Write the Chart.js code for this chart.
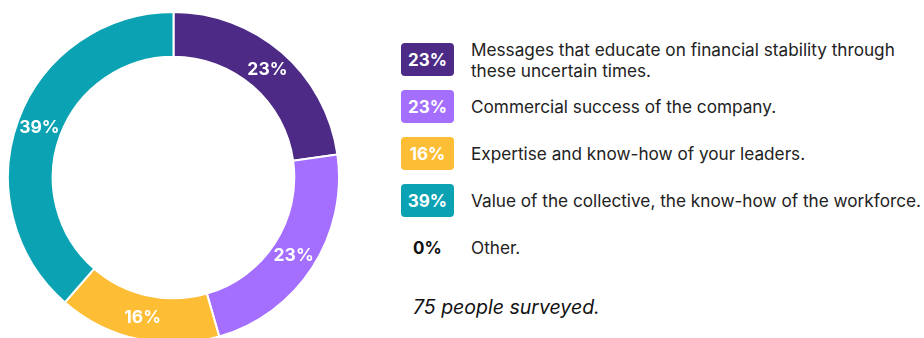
<!DOCTYPE html>
<html>
<head>
<meta charset="utf-8">
<script src="https://cdn.jsdelivr.net/npm/chart.js@4/dist/chart.umd.min.js"></script>
<style>
  html, body { margin: 0; padding: 0; background: #fff; overflow: hidden; }
  body { width: 924px; height: 338px; position: relative; font-family: Inter, "Noto Sans", sans-serif; }
  #wrap { position: absolute; left: 7px; top: 11px; width: 333px; height: 333px; }
  #legend { position: absolute; left: 401px; top: 43px; }
  .row { display: flex; align-items: center; height: 33px; margin-bottom: 14px; }
  .badge { width: 53px; height: 33px; border-radius: 4px; color: #fff; font-weight: 700; font-size: 17px;
           display: flex; align-items: center; justify-content: center; flex-shrink: 0; }
  .badge.plain { color: #111; justify-content: flex-start; padding-left: 12px; box-sizing: border-box; }
  .txt { margin-left: 17px; font-size: 17.2px; line-height: 21px; color: #222; width: 470px; white-space: nowrap; }
  #note { position: absolute; left: 413px; top: 295px; font-size: 19.5px; font-style: italic; color: #111; }
</style>
</head>
<body>
<div id="wrap"><canvas id="myChart" width="333" height="333"></canvas></div>
<div id="legend"></div>
<div id="note">75 people surveyed.</div>
<script>
var categories = [
  "Messages that educate on financial stability through these uncertain times.",
  "Commercial success of the company.",
  "Expertise and know-how of your leaders.",
  "Value of the collective, the know-how of the workforce.",
  "Other."
];
var percents = [23, 23, 16, 39, 0];
var colors = ['#4c2a85', '#a46eff', '#fdbe35', '#0ba3b3', '#ffffff'];

// legend rows on the right
var legend = document.getElementById("legend");
categories.forEach(function (label, i) {
  var row = document.createElement("div");
  row.className = "row";
  var b = document.createElement("div");
  b.className = "badge" + (percents[i] === 0 ? " plain" : "");
  if (percents[i] !== 0) b.style.background = colors[i];
  b.textContent = percents[i] + "%";
  var t = document.createElement("div");
  t.className = "txt";
  t.textContent = label;
  if (i === 0) t.innerHTML = "Messages that educate on financial stability through<br>these uncertain times.";
  row.appendChild(b);
  row.appendChild(t);
  legend.appendChild(row);
});

// percent labels drawn in the middle of each arc
var arcLabels = {
  id: 'arcLabels',
  afterDatasetsDraw: function (chart) {
    var c = chart.ctx;
    var meta = chart.getDatasetMeta(0);
    c.save();
    c.fillStyle = '#fff';
    c.font = 'bold 17.5px Inter';
    c.textAlign = 'center';
    c.textBaseline = 'middle';
    meta.data.forEach(function (arc, i) {
      var v = chart.data.datasets[0].data[i];
      if (!v) return;
      var p = arc.tooltipPosition();
      c.fillText(v + '%', p.x, p.y);
    });
    c.restore();
  }
};

var ctx = document.getElementById("myChart");
var myChart = new Chart(ctx, {
  type: 'doughnut',
  data: {
    labels: categories,
    datasets: [{
      data: percents,
      backgroundColor: colors,
      borderColor: '#fff',
      borderWidth: 2
    }]
  },
  options: {
    responsive: false,
    animation: false,
    cutout: '73%',
    layout: { padding: 0 },
    plugins: {
      legend: { display: false },
      tooltip: { enabled: false }
    }
  },
  plugins: [arcLabels]
});
</script>
</body>
</html>
